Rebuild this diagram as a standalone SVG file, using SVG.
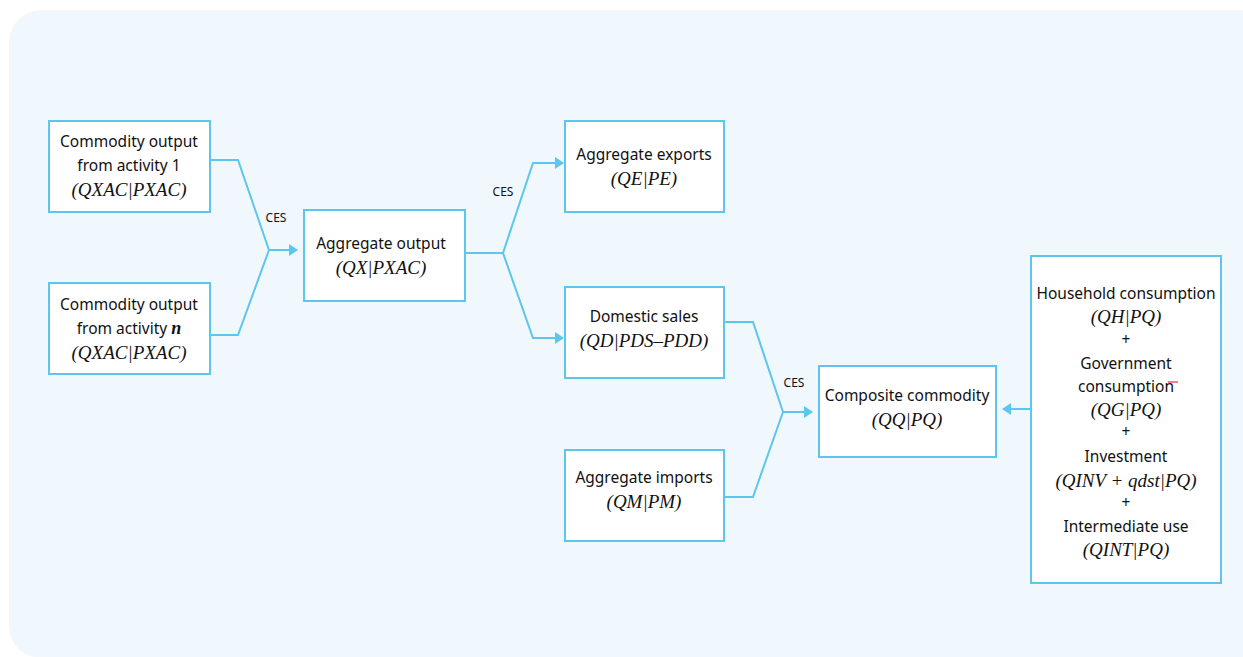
<svg xmlns="http://www.w3.org/2000/svg" width="1243" height="657" viewBox="0 0 1243 657">
<defs>
<style>
.bg{fill:#f0f8fd;}
.box{fill:#ffffff;stroke:#5cc6ec;stroke-width:2;}
.ln{fill:none;stroke:#5cc6ec;stroke-width:2;}
.t{font-family:"Noto Sans","Open Sans",sans-serif;font-size:15.5px;fill:#111111;text-anchor:middle;}
.f{font-family:"Liberation Serif","DejaVu Serif",serif;font-style:italic;font-size:19px;fill:#111111;text-anchor:middle;}
.ces{font-family:"Noto Sans","Open Sans",sans-serif;font-size:12px;fill:#111111;text-anchor:middle;}
</style>
<marker id="ar" markerWidth="9" markerHeight="12" refX="8" refY="6" orient="auto" markerUnits="userSpaceOnUse">
<path d="M0,0 L9,6 L0,12 Z" fill="#5cc6ec"/>
</marker>
</defs>
<rect class="bg" x="9" y="10" width="1262" height="648" rx="32"/>
<g id="connectors">
<polyline class="ln" points="210,160 238,160 269,250"/>
<polyline class="ln" points="210,335 238,335 269,250"/>
<line class="ln" x1="269" y1="250" x2="297" y2="250" marker-end="url(#ar)"/>
<polyline class="ln" points="465,253 503,253 533,163 563,163" marker-end="url(#ar)"/>
<polyline class="ln" points="503,253 533,338 563,338" marker-end="url(#ar)"/>
<polyline class="ln" points="724,322 753,322 783,412"/>
<polyline class="ln" points="724,497 753,497 783,412"/>
<line class="ln" x1="783" y1="412" x2="812" y2="412" marker-end="url(#ar)"/>
<line class="ln" x1="1031" y1="409" x2="1003" y2="409" marker-end="url(#ar)"/>
<text class="ces" x="276" y="222">CES</text>
<text class="ces" x="503" y="196">CES</text>
<text class="ces" x="794" y="387">CES</text>
</g>
<g id="activity1">
<rect class="box" x="49" y="121" width="161" height="91"/>
<text class="t" x="129" y="147">Commodity output</text>
<text class="t" x="129" y="171">from activity 1</text>
<text class="f" x="129" y="196">(QXAC|PXAC)</text>
</g>
<g id="activityn">
<rect class="box" x="49" y="283" width="161" height="91"/>
<text class="t" x="129" y="310">Commodity output</text>
<text class="t" x="129" y="334">from activity <tspan font-family="Liberation Serif" font-style="italic" font-weight="bold" font-size="18">n</tspan></text>
<text class="f" x="129" y="359">(QXAC|PXAC)</text>
</g>
<g id="aggoutput">
<rect class="box" x="304" y="210" width="161" height="91"/>
<text class="t" x="381" y="249">Aggregate output</text>
<text class="f" x="381" y="274">(QX|PXAC)</text>
</g>
<g id="exports">
<rect class="box" x="565" y="121" width="159" height="91"/>
<text class="t" x="644" y="160">Aggregate exports</text>
<text class="f" x="644" y="185">(QE|PE)</text>
</g>
<g id="domestic">
<rect class="box" x="565" y="287" width="159" height="91"/>
<text class="t" x="644" y="322">Domestic sales</text>
<text class="f" x="644" y="347">(QD|PDS–PDD)</text>
</g>
<g id="imports">
<rect class="box" x="565" y="450" width="159" height="91"/>
<text class="t" x="644" y="483">Aggregate imports</text>
<text class="f" x="644" y="508">(QM|PM)</text>
</g>
<g id="composite">
<rect class="box" x="819" y="366" width="177" height="91"/>
<text class="t" x="907" y="401">Composite commodity</text>
<text class="f" x="907" y="426">(QQ|PQ)</text>
</g>
<g id="demand">
<rect class="box" x="1031" y="256" width="190" height="327"/>
<text class="t" x="1126" y="299">Household consumption</text>
<text class="f" x="1126" y="323">(QH|PQ)</text>
<text class="t" x="1126" y="345" font-size="13">+</text>
<text class="t" x="1126" y="369">Government</text>
<text class="t" x="1126" y="392">consumption</text>
<text class="f" x="1126" y="416">(QG|PQ)</text>
<text class="t" x="1126" y="437" font-size="13">+</text>
<text class="t" x="1126" y="462">Investment</text>
<text class="f" x="1126" y="487">(QINV + qdst|PQ)</text>
<text class="t" x="1126" y="508" font-size="13">+</text>
<text class="t" x="1126" y="532">Intermediate use</text>
<text class="f" x="1126" y="556">(QINT|PQ)</text>
<line x1="1168" y1="382" x2="1178" y2="382" stroke="#e0303a" stroke-width="1.2"/>
</g>
</svg>
